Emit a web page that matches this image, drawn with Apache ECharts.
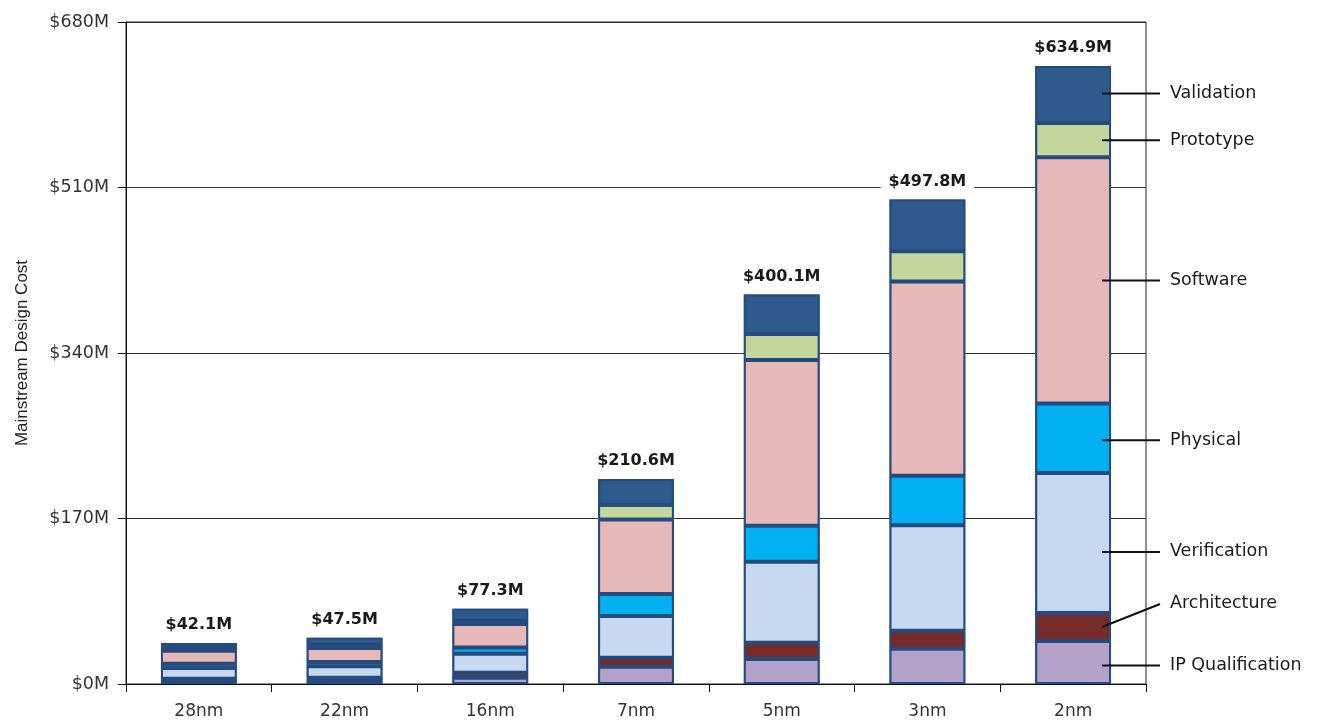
<!DOCTYPE html>
<html><head><meta charset="utf-8">
<script src="https://cdn.jsdelivr.net/npm/echarts@6.0.0/dist/echarts.min.js"></script>
<style>html,body{margin:0;padding:0;background:#fff}#c{width:1320px;height:725px}</style>
</head><body><div id="c"></div>
<script>
// ---- data ----
const categories = ['28nm', '22nm', '16nm', '7nm', '5nm', '3nm', '2nm'];
const totals = [42.1, 47.5, 77.3, 210.6, 400.1, 497.8, 634.9];
const ipQualification = [3.0, 3.5, 6.3, 17.8, 25.7, 36.3, 44.2];
const architecture = [2.4, 3.0, 5.3, 9.2, 16.7, 18.3, 28.8];
const verification = [11.0, 11.7, 19.5, 42.8, 83.2, 108.4, 143.8];
const physical = [4.4, 4.4, 6.4, 22.6, 37.0, 50.9, 71.2];
const software = [13.4, 14.4, 24.1, 76.7, 170.2, 199.5, 253.0];
const prototype = [3.5, 3.5, 3.5, 14.7, 26.7, 31.0, 35.3];
const validation = [4.4, 7.0, 12.2, 26.8, 40.6, 53.4, 58.6];
const yTicks = [0, 170, 340, 510, 680];
const segmentNames = ['IP Qualification', 'Architecture', 'Verification', 'Physical', 'Software', 'Prototype', 'Validation'];

// ---- styling ----
const segmentValues = [ipQualification, architecture, verification, physical, software, prototype, validation];
const segmentColors = ['#B3A2C7', '#772C2A', '#C6D9F1', '#00B0F0', '#E6B9B8', '#C3D69B', '#2F5A8E'];
const borderCol = '#264B7E';
const BAR_W = '52%';
// vertical offsets (px) of the callout labels relative to segment centres
const calloutShift = [3, -23, 9, 2, 0, 0, -1];

const chart = echarts.init(document.getElementById('c'), null, {renderer: 'canvas'});

// dark backing bar (gives the navy frame between segments)
const series = [{
  name: 'frame', type: 'bar', data: totals, barWidth: BAR_W, barGap: '-100%', z: 1,
  itemStyle: {color: borderCol}, emphasis: {disabled: true}, silent: true
}];
segmentNames.forEach((name, i) => {
  const s = {
    name: name,
    type: 'bar',
    stack: 'cost',
    barWidth: BAR_W,
    barGap: '-100%',
    z: 2,
    data: segmentValues[i],
    itemStyle: {color: segmentColors[i], borderColor: borderCol, borderWidth: 2},
    emphasis: {disabled: true},
    silent: true
  };
  if (i === segmentNames.length - 1) {
    s.label = {
      show: true, position: 'top', distance: 8,
      formatter: p => '$' + totals[p.dataIndex].toFixed(1) + 'M',
      fontFamily: 'DejaVu Sans', fontWeight: 'bold', fontSize: 16, color: '#1a1a1a',
      backgroundColor: '#ffffff', padding: [2, 8]
    };
  }
  series.push(s);
});

chart.setOption({
  animation: false,
  backgroundColor: '#ffffff',
  grid: {left: 126, right: 174, top: 22, bottom: 41, show: true, borderColor: '#222', borderWidth: 1, outerBoundsMode: 'none', containLabel: false},
  xAxis: {
    type: 'category', data: categories,
    axisLine: {lineStyle: {color: '#111', width: 1}},
    axisTick: {show: true, length: 8, lineStyle: {color: '#111'}},
    axisLabel: {fontFamily: 'DejaVu Sans', fontSize: 17, color: '#333', margin: 19},
    splitLine: {show: false}
  },
  yAxis: {
    type: 'value', min: yTicks[0], max: yTicks[yTicks.length - 1], interval: yTicks[1] - yTicks[0],
    name: 'Mainstream Design Cost', nameLocation: 'middle', nameGap: 95,
    nameTextStyle: {fontFamily: 'Liberation Sans', fontSize: 17, color: '#222'},
    axisLine: {show: true, lineStyle: {color: '#111', width: 1}},
    axisTick: {show: true, length: 8, lineStyle: {color: '#111'}},
    axisLabel: {fontFamily: 'DejaVu Sans', fontSize: 17.5, color: '#333', margin: 17, formatter: v => '$' + v + 'M'},
    splitLine: {show: true, lineStyle: {color: '#333', width: 1}}
  },
  series: series
});

// ---- callout labels on the last bar ----
const last = categories.length - 1;
const c0 = chart.convertToPixel({gridIndex: 0}, [0, 0]);
const c1 = chart.convertToPixel({gridIndex: 0}, [1, 0]);
const band = c1[0] - c0[0];
const cx = chart.convertToPixel({gridIndex: 0}, [last, 0])[0];
const startX = cx + band * 0.52 / 2 - 9;
const rightEdge = cx + band / 2;
const endX = rightEdge + 14;
const graphics = [];
let acc = 0;
segmentNames.forEach((name, i) => {
  const v = segmentValues[i][last];
  const mid = acc + v / 2;
  acc += v;
  const y = chart.convertToPixel({gridIndex: 0}, [last, mid])[1];
  const ly = y + calloutShift[i];
  const sy = Math.abs(calloutShift[i]) > 12 ? y : ly;
  graphics.push({
    type: 'polyline', silent: true, z: 100,
    shape: {points: [[startX, sy], [endX, ly]]},
    style: {stroke: '#111', lineWidth: 2, fill: null}
  });
  graphics.push({
    type: 'text', silent: true, z: 100, x: endX + 10, y: ly,
    style: {text: name, fontFamily: 'DejaVu Sans', fontSize: 17.5, fill: '#1a1a1a', verticalAlign: 'middle', align: 'left'}
  });
});
chart.setOption({graphic: graphics});
</script>
</body></html>
